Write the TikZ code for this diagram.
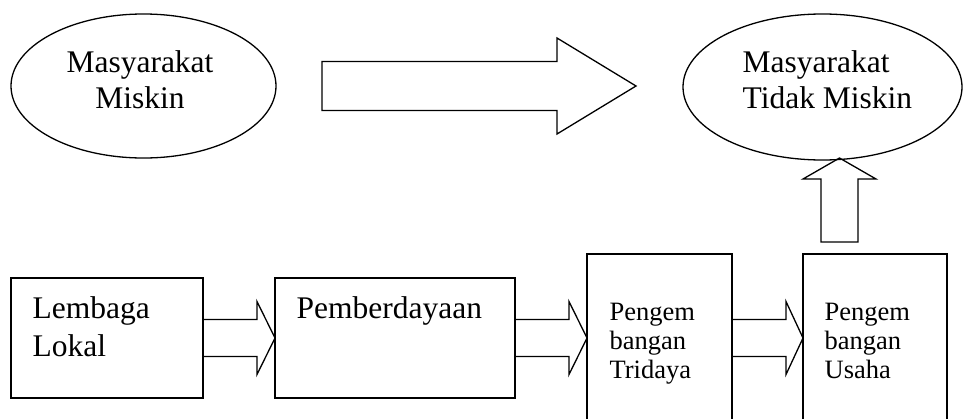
\documentclass[tikz,border=0pt]{standalone}
\usepackage{fontspec}
\setmainfont{Liberation Serif}
\usetikzlibrary{shapes.geometric,calc}
\newcommand\rblockarrow[5]{%
  \draw[blockarrow] ($(#1)+(0,-#3)$) -- ($(#2)+(-#5,-#3)$) -- ($(#2)+(-#5,-#4)$) -- (#2)
    -- ($(#2)+(-#5,#4)$) -- ($(#2)+(-#5,#3)$) -- ($(#1)+(0,#3)$) -- cycle;}
\begin{document}
\begin{tikzpicture}[x=1pt,y=-1pt,line width=1.3pt,
  ell/.style={draw, ellipse, inner sep=0pt, outer sep=0pt},
  boxnode/.style={draw, rectangle, inner sep=0pt, outer sep=0pt},
  big/.style={font=\fontsize{31.5}{36}\selectfont, inner sep=0pt, align=left},
  small/.style={font=\fontsize{26.5}{29}\selectfont, inner sep=0pt, align=left},
  blockarrow/.style={draw, line join=miter}]
\useasboundingbox (0,0) rectangle (963,418);
% ellipses
\node[ell, minimum width=265pt, minimum height=144pt] (e1) at (143.5,86) {};
\node[ell, minimum width=279pt, minimum height=146pt] (e2) at (822.5,87) {};
\node[big, align=center, anchor=base] (t1) at (140,108) {Masyarakat\\Miskin};
\node[big, anchor=base west] (t2) at (742,108) {Masyarakat\\Tidak Miskin};
% boxes
\node[boxnode, minimum width=192pt, minimum height=120pt] (b1) at (107,338) {};
\node[boxnode, minimum width=240pt, minimum height=120pt] (b2) at (395,338) {};
\node[boxnode, minimum width=145pt, minimum height=170pt] (b3) at (659.5,339) {};
\node[boxnode, minimum width=144pt, minimum height=170pt] (b4) at (875,339) {};
\node[big, font=\fontsize{31.5}{38}\selectfont, anchor=base west] (t3) at (32,356) {Lembaga\\Lokal};
\node[big, anchor=base west] (t4) at (296,318) {Pemberdayaan};
\node[small, anchor=base west] (t5) at (609,378) {Pengem\\bangan\\Tridaya};
\node[small, anchor=base west] (t6) at (824,378) {Pengem\\bangan\\Usaha};
% arrows
\coordinate (a2e) at (b3.west |- b2.east);
\coordinate (a3s) at (b3.east |- b2.east);
\coordinate (a3e) at (b4.west |- b2.east);
\rblockarrow{b1.east}{b2.west}{18.5}{36.5}{18}
\rblockarrow{b2.east}{a2e}{18.5}{36.5}{18}
\rblockarrow{a3s}{a3e}{18.5}{36.5}{17}
\coordinate (bas) at (322,86);
\coordinate (bae) at (636,86);
\rblockarrow{bas}{bae}{24.5}{48}{79}
\coordinate (us) at (839.5,242);
\coordinate (ue) at (839.5,158);
\draw[blockarrow] ($(us)+(-18.5,0)$) -- ($(ue)+(-18.5,21)$) -- ($(ue)+(-36.5,21)$) -- (ue)
  -- ($(ue)+(36.5,21)$) -- ($(ue)+(18.5,21)$) -- ($(us)+(18.5,0)$) -- cycle;
\end{tikzpicture}
\end{document}
